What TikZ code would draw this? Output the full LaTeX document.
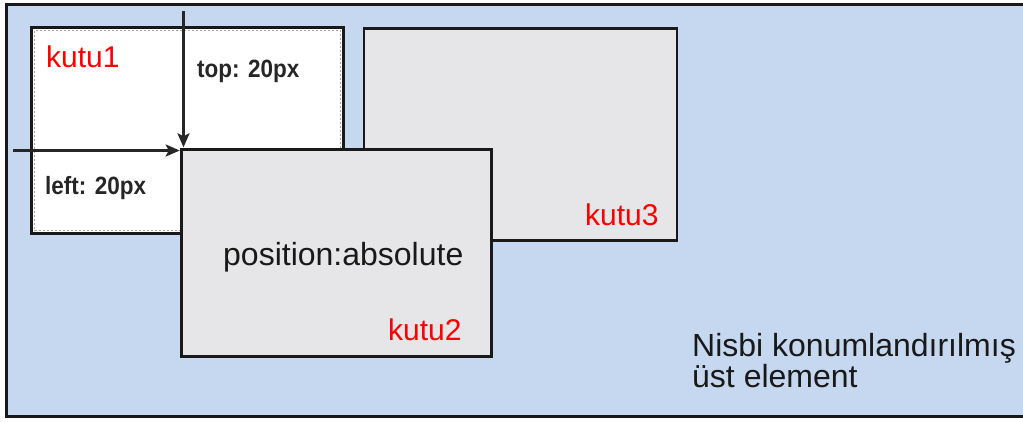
\documentclass[tikz,border=0pt]{standalone}
\usepackage{fontspec}
\setmainfont{Liberation Sans}
\usetikzlibrary{arrows.meta}
\definecolor{bgblue}{HTML}{C6D8EF}
\definecolor{boxgray}{HTML}{E6E6E8}
\definecolor{lblred}{HTML}{FF0000}
\newcommand{\dimtext}[1]{\scalebox{0.9}[1]{#1}}
\begin{document}
\begin{tikzpicture}[x=1pt,y=-1pt,
  box/.style={rectangle,draw=black!90,inner sep=0pt,outer sep=0pt,anchor=north west},
  redlbl/.style={anchor=base west,inner sep=0pt,text=lblred,font=\fontsize{30}{36}\selectfont},
  dimlbl/.style={anchor=base west,inner sep=0pt,text=black!85,font=\bfseries\fontsize{25}{30}\selectfont},
  bodytext/.style={anchor=base west,inner sep=0pt,text=black!90,font=\fontsize{32}{31}\selectfont,align=left},
  dimarrow/.style={draw=black!85,line width=2.3pt,-{Stealth[length=14pt,width=12pt,inset=3pt]}}
]
\useasboundingbox (0,0) rectangle (1023,421);
\fill[white] (0,0) rectangle (1023,421);
% outer parent element (its right edge lies beyond the picture)
\path[fill=bgblue] (6.5,4.5) rectangle (1023,416);
\coordinate (ptl) at (6.5,4.5);
\coordinate (ptr) at (1023,4.5);
\coordinate (pbl) at (6.5,416);
\coordinate (pbr) at (1023,416);
\draw[black!90,line width=3pt] (ptr) -- (ptl) -- (pbl) -- (pbr);
% kutu1
\node[box,fill=white,line width=3pt,minimum width=311.5pt,minimum height=206pt] (kutu1) at (31.5,27.5) {};
\draw[black!35,line width=0.6pt,dash pattern=on 2pt off 2pt] ([xshift=3pt,yshift=-3pt]kutu1.north west) rectangle ([xshift=-3pt,yshift=3pt]kutu1.south east);
% kutu3
\node[box,fill=boxgray,line width=2.5pt,minimum width=313pt,minimum height=212pt] (kutu3) at (364,28.3) {};
% kutu2
\node[box,fill=boxgray,line width=2.5pt,minimum width=310pt,minimum height=207pt] (kutu2) at (181.7,149.3) {};
% labels
\node[redlbl] (l1) at (46,67) {kutu1};
\node[redlbl] (l2) at (388,340) {kutu2};
\node[redlbl] (l3) at (585,225) {kutu3};
\node[dimlbl] (toplbl) at (197,77) {\dimtext{top: 20px}};
\node[dimlbl] (leftlbl) at (45,194) {\dimtext{left: 20px}};
\node[bodytext] (pos) at (223,265) {position:absolute};
\node[bodytext,anchor=north west] (parentlbl) at (692,333) {Nisbi konumlandırılmış\\üst element};
% arrows
\coordinate (topstart) at (183.5,11);
\coordinate (leftstart) at (13,150.5);
\draw[dimarrow,shorten >=2pt] (topstart) -- (topstart |- kutu2.north west);
\draw[dimarrow,shorten >=2pt] (leftstart) -- (leftstart -| kutu2.north west);
\end{tikzpicture}
\end{document}
